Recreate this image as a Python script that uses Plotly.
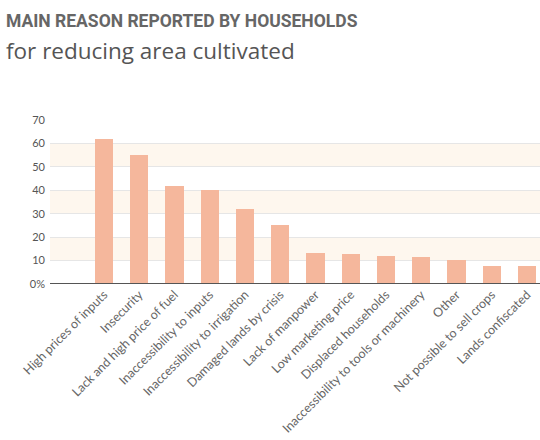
import plotly.graph_objects as go

categories = [
    "High prices of inputs", "Insecurity", "Lack and high price of fuel",
    "Inaccessibility to inputs", "Inaccessibility to irrigation",
    "Damaged lands by crisis", "Lack of manpower", "Low marketing price",
    "Displaced households", "Inaccessibility to tools or machinery",
    "Other", "Not possible to sell crops", "Lands confiscated",
]
values = [62, 55, 42, 40, 32, 25, 13.2, 12.7, 12.1, 11.5, 10.1, 7.8, 7.8]
y_tick_vals = [0, 10, 20, 30, 40, 50, 60, 70]
y_tick_text = ["0%", "10", "20", "30", "40", "50", "60", "70"]

fig = go.Figure()
fig.add_trace(go.Bar(
    x=list(range(len(categories))), y=values,
    marker=dict(color="#F5B79C", line=dict(width=0)),
    width=0.52,
))

# alternating light bands
shapes = []
for lo in [10, 30, 50]:
    shapes.append(dict(type="rect", xref="paper", yref="y", x0=0, x1=1, y0=lo, y1=lo + 10,
                       fillcolor="#FEF7EE", line=dict(width=0), layer="below"))

fig.update_layout(
    width=540, height=440,
    margin=dict(l=50, r=0, t=120, b=156),
    paper_bgcolor="white", plot_bgcolor="white",
    showlegend=False,
    shapes=shapes,
    bargap=0,
    xaxis=dict(
        range=[-1.53, 12.37],
        tickmode="array", tickvals=list(range(len(categories))), ticktext=categories,
        tickangle=-45, tickfont=dict(family="Lato", size=12.5, color="#666"),
        showgrid=False, zeroline=False, showline=False, ticks="",
    ),
    yaxis=dict(
        range=[0, 70],
        tickmode="array", tickvals=y_tick_vals, ticktext=y_tick_text,
        tickfont=dict(family="Lato", size=11, color="#555"),
        showgrid=True, gridcolor="#E6E6E6", gridwidth=1,
        zeroline=False, showline=False, ticks="", ticklabelstandoff=4,
    ),
    annotations=[
        dict(text="<b>MAIN REASON REPORTED BY HOUSEHOLDS</b>", xref="paper", yref="paper",
             x=0, y=1, xanchor="left", yanchor="top", xshift=-46, yshift=111,
             showarrow=False,
             font=dict(family="Roboto", size=17.5, color="#666"),
             ),
        dict(text="for reducing area cultivated", xref="paper", yref="paper",
             x=0, y=1, xanchor="left", yanchor="top", xshift=-46, yshift=87,
             showarrow=False,
             font=dict(family="Open Sans", size=22.5, color="#555")),
    ],
)
fig.add_shape(type="line", xref="paper", yref="y", x0=0, x1=1, y0=0, y1=0,
              line=dict(color="#555", width=2))
fig.write_html("out.html")
